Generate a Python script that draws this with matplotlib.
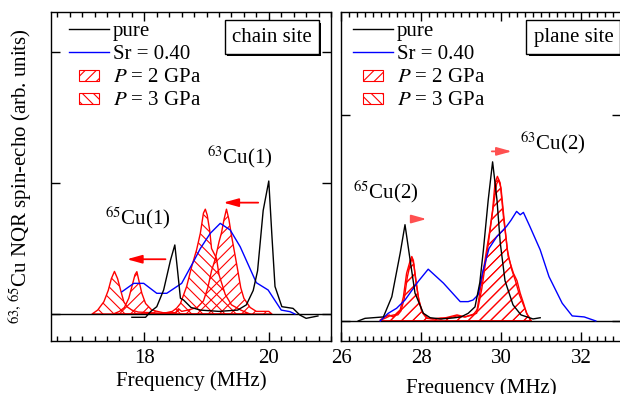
import matplotlib
matplotlib.use("Agg")
import matplotlib.pyplot as plt
import matplotlib.patheffects as pe
from matplotlib.lines import Line2D
from matplotlib.patches import Patch, Rectangle
from matplotlib.legend_handler import HandlerPatch
from matplotlib.ticker import MultipleLocator

plt.rcParams['font.family'] = ['Liberation Serif', 'DejaVu Serif']
plt.rcParams['mathtext.fontset'] = 'stix'
plt.rcParams['hatch.linewidth'] = 0.8

# ---- chain site (left panel) ----
pure_chain_f = [17.80, 18.02, 18.10, 18.20, 18.31, 18.42, 18.49, 18.53, 18.58, 18.63, 18.75, 18.9,
                19.2, 19.5, 19.64, 19.75, 19.82, 19.91, 20.0, 20.05, 20.10, 20.21, 20.39, 20.5,
                20.6, 20.79]
pure_chain_v = [-0.025, -0.025, 0.018, 0.056, 0.183, 0.41, 0.527, 0.35, 0.12, 0.107, 0.05, 0.03,
                0.02, 0.03, 0.07, 0.18, 0.33, 0.79, 1.015, 0.6, 0.21, 0.056, 0.043, -0.008,
                -0.033, -0.015]

sr_chain_f = [17.64, 17.83, 17.99, 18.2, 18.36, 18.6, 18.79, 18.9, 19.06, 19.22, 19.38, 19.54,
              19.80, 19.99, 20.20, 20.34, 20.42]
sr_chain_v = [0.17, 0.234, 0.234, 0.158, 0.158, 0.234, 0.40, 0.50, 0.616, 0.692, 0.641, 0.514,
              0.239, 0.183, 0.03, 0.018, 0.0]

p2_chain_f = [17.50, 17.60, 17.68, 17.75, 17.80, 17.85, 17.88, 17.91, 17.96, 18.02, 18.12, 18.3,
              18.5, 18.55, 18.6, 18.7, 18.85, 18.95, 19.02, 19.08, 19.14, 19.2, 19.24, 19.28,
              19.32, 19.36, 19.40, 19.45, 19.51, 19.55, 19.60, 19.70, 19.80, 19.9, 20.0, 20.05]
p2_chain_v = [0.0, 0.02, 0.05, 0.12, 0.21, 0.30, 0.323, 0.26, 0.158, 0.08, 0.03, 0.01,
              0.01, 0.04, 0.02, 0.03, 0.05, 0.10, 0.20, 0.33, 0.42, 0.55, 0.62, 0.72,
              0.80, 0.72, 0.60, 0.47, 0.31, 0.20, 0.12, 0.05, 0.02, 0.02, 0.02, 0.0]

p3_chain_f = [17.16, 17.25, 17.35, 17.42, 17.47, 17.52, 17.57, 17.62, 17.67, 17.72, 17.8, 17.9,
              18.1, 18.3, 18.45, 18.52, 18.58, 18.68, 18.76, 18.84, 18.90, 18.95, 18.98, 19.01,
              19.05, 19.08, 19.16, 19.2, 19.3, 19.4, 19.55, 19.7]
p3_chain_v = [0.0, 0.03, 0.094, 0.18, 0.27, 0.325, 0.27, 0.18, 0.094, 0.056, 0.03, 0.015,
              0.01, 0.005, 0.02, 0.045, 0.08, 0.21, 0.36, 0.49, 0.616, 0.77, 0.80, 0.756,
              0.64, 0.50, 0.425, 0.30, 0.15, 0.07, 0.03, 0.0]

# ---- plane site (right panel) ----
pure_plane_f = [26.43, 26.6, 27.06, 27.27, 27.48, 27.6, 27.73, 27.85, 28.06, 28.23, 28.5, 28.8,
                29.0, 29.18, 29.35, 29.47, 29.56, 29.68, 29.79, 29.9, 29.98, 30.1, 30.3, 30.5,
                30.8, 30.98]
pure_plane_v = [0.0, 0.013, 0.02, 0.12, 0.337, 0.478, 0.30, 0.138, 0.038, 0.016, 0.01, 0.015,
                0.02, 0.038, 0.07, 0.19, 0.353, 0.60, 0.79, 0.60, 0.39, 0.2, 0.08, 0.03,
                0.01, 0.016]

sr_plane_f = [26.98, 27.18, 27.39, 27.6, 27.93, 28.18, 28.56, 28.98, 29.18, 29.3, 29.43, 29.55,
              29.7, 29.9, 30.05, 30.14, 30.25, 30.39, 30.48, 30.56, 30.72, 30.98, 31.2, 31.53,
              31.78, 32.08, 32.37]
sr_plane_v = [0.0, 0.038, 0.063, 0.104, 0.196, 0.257, 0.188, 0.096, 0.096, 0.104, 0.13, 0.25,
              0.36, 0.42, 0.45, 0.47, 0.50, 0.544, 0.527, 0.539, 0.47, 0.353, 0.22, 0.088,
              0.025, 0.02, 0.0]

p2_plane_f = [26.98, 27.1, 27.2, 27.3, 27.4, 27.48, 27.56, 27.64, 27.73, 27.77, 27.81, 27.85,
              27.93, 28.02, 28.14, 28.3, 28.5, 28.7, 28.9, 29.1, 29.25, 29.39, 29.48, 29.56,
              29.64, 29.72, 29.79, 29.85, 29.91, 29.98, 30.06, 30.18, 30.31, 30.4, 30.48, 30.56,
              30.64, 30.72]
p2_plane_v = [0.005, 0.02, 0.03, 0.02, 0.04, 0.055, 0.12, 0.237, 0.30, 0.32, 0.30, 0.237,
              0.12, 0.046, 0.013, 0.01, 0.01, 0.02, 0.03, 0.02, 0.03, 0.038, 0.154, 0.25,
              0.353, 0.45, 0.55, 0.685, 0.718, 0.685, 0.52, 0.32, 0.237, 0.2, 0.138, 0.09,
              0.038, 0.013]

p3_plane_f = [27.0, 27.12, 27.22, 27.32, 27.42, 27.5, 27.58, 27.66, 27.74, 27.78, 27.82, 27.87,
              27.95, 28.04, 28.16, 28.3, 28.5, 28.7, 28.9, 29.1, 29.3, 29.42, 29.52, 29.6,
              29.68, 29.76, 29.83, 29.89, 29.94, 30.0, 30.08, 30.16, 30.26, 30.36, 30.46, 30.56,
              30.66, 30.76]
p3_plane_v = [0.005, 0.015, 0.025, 0.03, 0.03, 0.05, 0.11, 0.22, 0.29, 0.31, 0.28, 0.2,
              0.1, 0.04, 0.015, 0.01, 0.015, 0.015, 0.025, 0.02, 0.03, 0.06, 0.16, 0.27,
              0.38, 0.5, 0.6, 0.68, 0.70, 0.66, 0.5, 0.35, 0.26, 0.2, 0.13, 0.08,
              0.03, 0.0]

labels = ['pure', 'Sr = 0.40', '$P$ = 2 GPa', '$P$ = 3 GPa']


def small_box(legend, orig_handle, xdescent, ydescent, width, height, fontsize):
    return Rectangle((-xdescent + width * 0.25, -ydescent + height * 0.1), width * 0.5, height * 0.75)


def style_axes(ax):
    ax.tick_params(which='both', direction='in', top=True, right=True, labelsize=15, pad=6)
    ax.tick_params(which='major', length=6.5, width=1)
    ax.tick_params(which='minor', length=3.5, width=1)
    ax.xaxis.set_minor_locator(MultipleLocator(0.2))
    ax.set_yticklabels([])
    for s in ax.spines.values():
        s.set_linewidth(1.0)
    ax.set_xlabel('Frequency (MHz)', fontsize=15, labelpad=2)


def add_legend(ax, x0):
    handles = [Line2D([], [], color='black', lw=1),
               Line2D([], [], color='blue', lw=1),
               Patch(facecolor='white', edgecolor='red', hatch='///', lw=0.8),
               Patch(facecolor='white', edgecolor='red', hatch='\\\\\\', lw=0.8)]
    ax.legend(handles, labels, loc='upper left', bbox_to_anchor=(x0, 0.972), frameon=False,
              fontsize=15, borderpad=0, borderaxespad=0, handlelength=1.9, handletextpad=0.2,
              labelspacing=0.17, handler_map={Patch: HandlerPatch(patch_func=small_box)})


def site_box(ax, x, y, txt):
    t = ax.text(x, y, txt, transform=ax.transAxes, fontsize=15, ha='center', va='center',
                bbox=dict(boxstyle='square,pad=0.34', fc='white', ec='black', lw=1), zorder=6)
    t.get_bbox_patch().set_path_effects([
        pe.SimplePatchShadow(offset=(1.6, -1.6), shadow_rgbFace='black', alpha=1.0),
        pe.Normal()])


def arrow(ax, x1, x2, y, color):
    ax.annotate('', xy=(x2, y), xytext=(x1, y),
                arrowprops=dict(arrowstyle='-|>,head_length=0.9,head_width=0.25', color=color,
                                lw=1.3, mutation_scale=10, shrinkA=0, shrinkB=0))


fig = plt.figure(figsize=(6.2, 3.94), dpi=100)
ax1 = fig.add_axes([51 / 620, 53 / 394, 280 / 620, 329 / 394])
ax2 = fig.add_axes([341 / 620, 53 / 394, 280 / 620, 329 / 394])

# left panel
ax1.axhline(0, color='black', lw=1)
ax1.fill_between(p3_chain_f, 0, p3_chain_v, facecolor='none', edgecolor='red', hatch='\\\\\\', lw=1)
ax1.fill_between(p2_chain_f, 0, p2_chain_v, facecolor='none', edgecolor='red', hatch='///', lw=1)
ax1.plot(sr_chain_f, sr_chain_v, color='blue', lw=1)
ax1.plot(pure_chain_f, pure_chain_v, color='black', lw=1)
ax1.set_xlim(16.5, 21.0)
ax1.set_ylim(-0.206, 2.305)
ax1.set_xticks([18, 20])
ax1.set_yticks([0, 1, 2])
style_axes(ax1)
ax1.set_ylabel('$^{63,\\,65}$Cu NQR spin-echo (arb. units)', fontsize=15, labelpad=6)
add_legend(ax1, 0.064)
site_box(ax1, 0.788, 0.924, 'chain site')
ax1.text(19.54, 1.2, '$^{63}$Cu(1)', fontsize=15, ha='center', va='center')
ax1.text(17.9, 0.733, '$^{65}$Cu(1)', fontsize=15, ha='center', va='center')
arrow(ax1, 19.83, 19.27, 0.85, 'red')
arrow(ax1, 18.34, 17.72, 0.418, 'red')

# right panel
ax2.axhline(0, color='black', lw=1)
ax2.fill_between(p3_plane_f, 0, p3_plane_v, facecolor='none', edgecolor='red', hatch='///', lw=1)
ax2.fill_between(p2_plane_f, 0, p2_plane_v, facecolor='none', edgecolor='red', hatch='///', lw=1)
ax2.plot(sr_plane_f, sr_plane_v, color='blue', lw=1)
ax2.plot(pure_plane_f, pure_plane_v, color='black', lw=1)
ax2.set_xlim(26, 33)
ax2.set_ylim(-0.0995, 1.534)
ax2.set_xticks([26, 28, 30, 32])
ax2.set_yticks([0, 1.025])
style_axes(ax2)
ax2.xaxis.labelpad = 7
add_legend(ax2, 0.043)
site_box(ax2, 0.83, 0.924, 'plane site')
ax2.text(31.3, 0.886, '$^{63}$Cu(2)', fontsize=15, ha='center', va='center')
ax2.text(27.12, 0.64, '$^{65}$Cu(2)', fontsize=15, ha='center', va='center')
arrow(ax2, 29.77, 30.27, 0.842, '#ff5050')
arrow(ax2, 27.8, 28.14, 0.506, '#ff5050')

fig.savefig('out.png', dpi=100)
